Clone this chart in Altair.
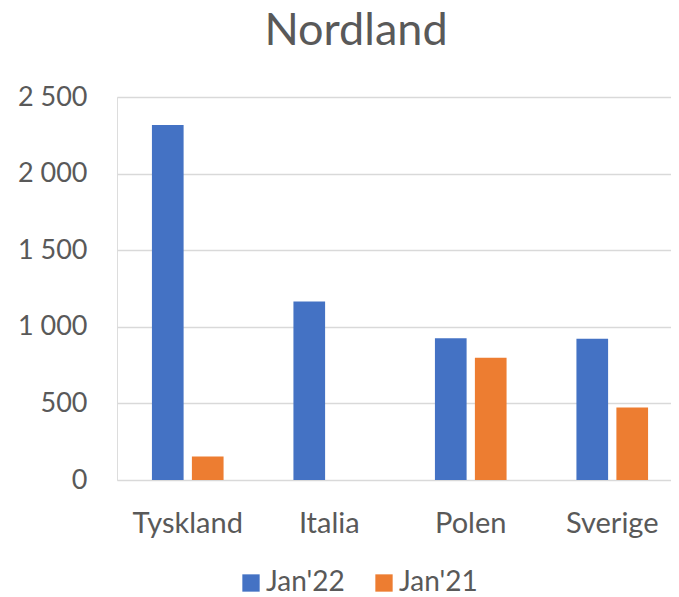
import altair as alt
import pandas as pd

categories = ["Tyskland", "Italia", "Polen", "Sverige"]
series = ["Jan'22", "Jan'21"]
jan22 = [2317, 1165, 926, 922]
jan21 = [154, 0, 798, 474]
y_ticks = [0, 500, 1000, 1500, 2000, 2500]
colors = ["#4472C4", "#ED7D31"]
title_text = ["Nordland"]

rows = []
for c, a, b in zip(categories, jan22, jan21):
    rows.append({"land": c, "serie": series[0], "verdi": a})
    rows.append({"land": c, "serie": series[1], "verdi": b})
df = pd.DataFrame(rows)

FONT = "Lato"
GREY = "#595959"

bars = alt.Chart(df).mark_bar().encode(
    x=alt.X("land:N", sort=categories,
            scale=alt.Scale(paddingInner=0, paddingOuter=0, range=[0, 566]),
            axis=alt.Axis(title=None, labelAngle=0, ticks=False, domain=False,
                          labelFont=FONT, labelFontSize=29, labelColor=GREY,
                          labelBaseline="alphabetic", labelPadding=52, grid=False)),
    xOffset=alt.XOffset("serie:N", sort=series,
                        scale=alt.Scale(paddingInner=0.2075, paddingOuter=0.874)),
    y=alt.Y("verdi:Q", scale=alt.Scale(domain=[0, 2500], nice=False),
            axis=alt.Axis(title=None, values=y_ticks, ticks=False, domain=False,
                          labelFont=FONT, labelFontSize=27, labelColor=GREY,
                          labelPadding=30,
                          labelExpr="replace(format(datum.value, ','), ',', ' ')",
                          grid=True, gridColor="#D9D9D9", gridWidth=1.6)),
    color=alt.Color("serie:N", sort=series,
                    scale=alt.Scale(domain=series, range=colors),
                    legend=alt.Legend(title=None, orient="none", direction="horizontal",
                                      legendX=120, legendY=472,
                                      symbolType="square", symbolSize=300,
                                      symbolStrokeWidth=0, symbolOpacity=1,
                                      labelFont=FONT, labelFontSize=28, labelColor=GREY,
                                      labelOffset=1, columnPadding=25, padding=0)),
)

title = alt.Chart(pd.DataFrame({"t": title_text})).mark_text(
    font=FONT, fontSize=45, color=GREY, align="center", baseline="alphabetic"
).encode(
    text="t:N",
    x=alt.value(239),
    y=alt.value(-52),
)

chart = alt.layer(bars, title).properties(
    width=554,
    height=383,
    autosize=alt.AutoSizeParams(type="none"),
    padding={"left": 109, "top": 89, "right": 0, "bottom": 116},
).configure_view(stroke=None).configure(background="white")

chart.save("out.html", embed_options={"renderer": "svg", "actions": False})
